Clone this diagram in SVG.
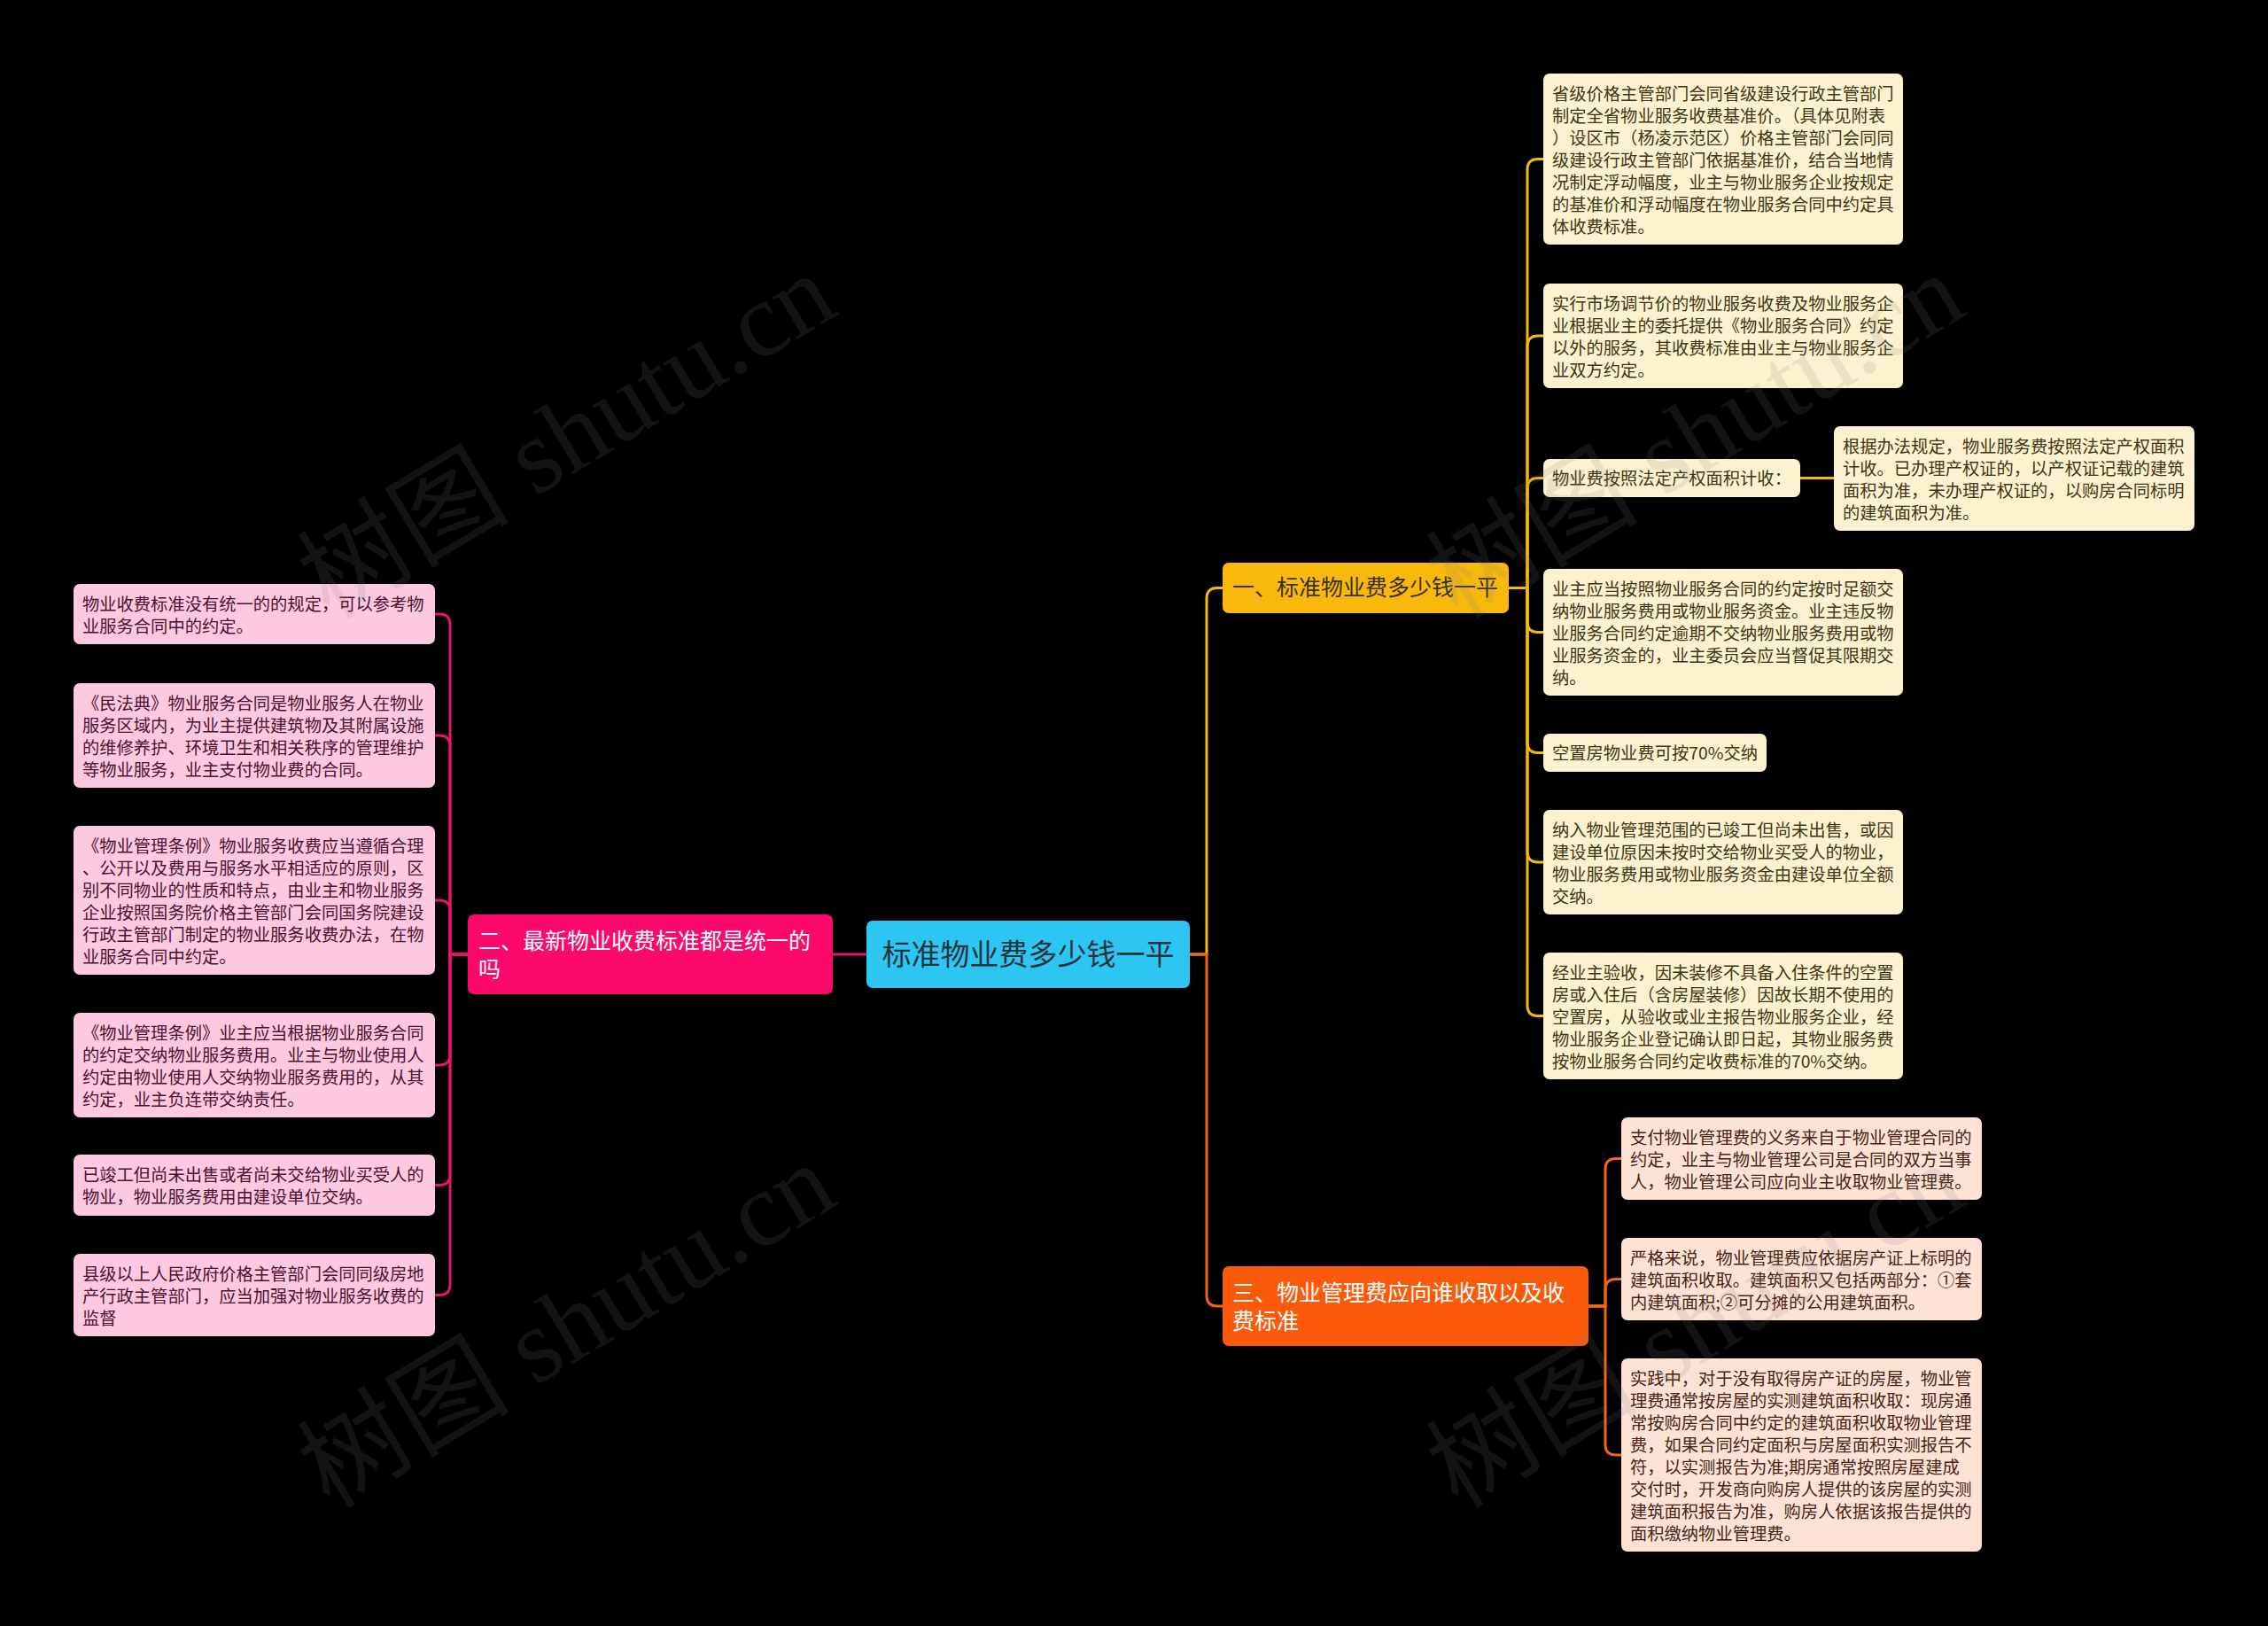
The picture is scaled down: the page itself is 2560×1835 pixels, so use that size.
<svg xmlns="http://www.w3.org/2000/svg" width="2560" height="1835" viewBox="0 0 2560 1835">
<style>
text{font-family:"Noto Sans CJK SC","Noto Sans",sans-serif}
.c1 rect{fill:#fdf2cf}
.c1 text{fill:#3f3512;font-size:19.3px}
.c2 rect{fill:#fcc9e0}
.c2 text{fill:#4d1030;font-size:19.3px}
.c3 rect{fill:#fde2d5}
.c3 text{fill:#4a2412;font-size:19.3px}
.yl{fill:none;stroke:#f6b90f;stroke-width:3}
.pk{fill:none;stroke:#e5156b;stroke-width:3}
.or{fill:none;stroke:#f2661a;stroke-width:3}
.wm{fill:#808080;fill-opacity:0.15;font-size:120px;font-family:"Liberation Serif","Noto Sans CJK SC",serif}
</style>
<rect width="2560" height="1835" fill="#000"/>

<g id="connectors">
<path class="pk" d="M978 1077H940"/>
<path class="pk" d="M528 1077H508V705Q508 693 496 693H491"/>
<path class="pk" d="M528 1077H508V842Q508 830 496 830H491"/>
<path class="pk" d="M528 1077H508V1028Q508 1016 496 1016H491"/>
<path class="pk" d="M528 1077H508V1190Q508 1202 496 1202H491"/>
<path class="pk" d="M528 1077H508V1325.5Q508 1337.5 496 1337.5H491"/>
<path class="pk" d="M528 1077H508V1449.5Q508 1461.5 496 1461.5H491"/>
<path class="yl" d="M1343 1077H1362V675.5Q1362 663.5 1374 663.5H1380"/>
<path class="or" d="M1343 1077H1362V1462Q1362 1474 1374 1474H1380"/>
<path class="yl" d="M1703 663.5H1724V191.5Q1724 179.5 1736 179.5H1742"/>
<path class="yl" d="M1703 663.5H1724V391Q1724 379 1736 379H1742"/>
<path class="yl" d="M1703 663.5H1724V551.5Q1724 539.5 1736 539.5H1742"/>
<path class="yl" d="M1703 663.5H1724V701.5Q1724 713.5 1736 713.5H1742"/>
<path class="yl" d="M1703 663.5H1724V837.5Q1724 849.5 1736 849.5H1742"/>
<path class="yl" d="M1703 663.5H1724V961Q1724 973 1736 973H1742"/>
<path class="yl" d="M1703 663.5H1724V1134.5Q1724 1146.5 1736 1146.5H1742"/>
<path class="yl" d="M2032 539.5H2070"/>
<path class="or" d="M1793 1474H1812V1319.5Q1812 1307.5 1824 1307.5H1830"/>
<path class="or" d="M1793 1474H1812V1455.5Q1812 1443.5 1824 1443.5H1830"/>
<path class="or" d="M1793 1474H1812V1630Q1812 1642 1824 1642H1830"/>
</g>

<g id="root">
<rect x="978" y="1039" width="365" height="76" rx="7" fill="#2dc5f2"/>
<text x="1160.5" y="1089" font-size="33" fill="#23343e" text-anchor="middle">标准物业费多少钱一平</text>
</g>

<g id="b1">
<rect x="1380" y="635" width="323" height="57" rx="7" fill="#f8b90c"/>
<text x="1391" y="672" font-size="25" fill="#3a2f0c">一、标准物业费多少钱一平</text>
</g>
<g id="b2">
<rect x="528" y="1032" width="412" height="90" rx="7" fill="#fc0a6b"/>
<text font-size="25" fill="#fff"><tspan x="540" y="1071">二、最新物业收费标准都是统一的</tspan><tspan x="540" y="1103">吗</tspan></text>
</g>
<g id="b3">
<rect x="1380" y="1429" width="413" height="90" rx="7" fill="#fb5a0b"/>
<text font-size="25" fill="#fff"><tspan x="1391" y="1468">三、物业管理费应向谁收取以及收</tspan><tspan x="1391" y="1500">费标准</tspan></text>
</g>

<g id="r1" class="c1">
<rect x="1742" y="83" width="406" height="193" rx="7"/>
<text><tspan x="1752" y="113">省级价格主管部门会同省级建设行政主管部门</tspan><tspan x="1752" y="138">制定全省物业服务收费基准价。（具体见附表</tspan><tspan x="1752" y="163">）设区市（杨凌示范区）价格主管部门会同同</tspan><tspan x="1752" y="188">级建设行政主管部门依据基准价，结合当地情</tspan><tspan x="1752" y="213">况制定浮动幅度，业主与物业服务企业按规定</tspan><tspan x="1752" y="238">的基准价和浮动幅度在物业服务合同中约定具</tspan><tspan x="1752" y="263">体收费标准。</tspan></text>
</g>
<g id="r2" class="c1">
<rect x="1742" y="320" width="406" height="118" rx="7"/>
<text><tspan x="1752" y="350">实行市场调节价的物业服务收费及物业服务企</tspan><tspan x="1752" y="375">业根据业主的委托提供《物业服务合同》约定</tspan><tspan x="1752" y="400">以外的服务，其收费标准由业主与物业服务企</tspan><tspan x="1752" y="425">业双方约定。</tspan></text>
</g>
<g id="r3" class="c1">
<rect x="1742" y="518" width="290" height="43" rx="7"/>
<text x="1752" y="547">物业费按照法定产权面积计收：</text>
</g>
<g id="r3c" class="c1">
<rect x="2070" y="481" width="407" height="118" rx="7"/>
<text><tspan x="2080" y="511">根据办法规定，物业服务费按照法定产权面积</tspan><tspan x="2080" y="536">计收。已办理产权证的，以产权证记载的建筑</tspan><tspan x="2080" y="561">面积为准，未办理产权证的，以购房合同标明</tspan><tspan x="2080" y="586">的建筑面积为准。</tspan></text>
</g>
<g id="r4" class="c1">
<rect x="1742" y="642" width="406" height="143" rx="7"/>
<text><tspan x="1752" y="672">业主应当按照物业服务合同的约定按时足额交</tspan><tspan x="1752" y="697">纳物业服务费用或物业服务资金。业主违反物</tspan><tspan x="1752" y="722">业服务合同约定逾期不交纳物业服务费用或物</tspan><tspan x="1752" y="747">业服务资金的，业主委员会应当督促其限期交</tspan><tspan x="1752" y="772">纳。</tspan></text>
</g>
<g id="r5" class="c1">
<rect x="1742" y="828" width="252" height="43" rx="7"/>
<text x="1752" y="857">空置房物业费可按70%交纳</text>
</g>
<g id="r6" class="c1">
<rect x="1742" y="914" width="406" height="118" rx="7"/>
<text><tspan x="1752" y="944">纳入物业管理范围的已竣工但尚未出售，或因</tspan><tspan x="1752" y="969">建设单位原因未按时交给物业买受人的物业，</tspan><tspan x="1752" y="994">物业服务费用或物业服务资金由建设单位全额</tspan><tspan x="1752" y="1019">交纳。</tspan></text>
</g>
<g id="r7" class="c1">
<rect x="1742" y="1075" width="406" height="143" rx="7"/>
<text><tspan x="1752" y="1105">经业主验收，因未装修不具备入住条件的空置</tspan><tspan x="1752" y="1130">房或入住后（含房屋装修）因故长期不使用的</tspan><tspan x="1752" y="1155">空置房，从验收或业主报告物业服务企业，经</tspan><tspan x="1752" y="1180">物业服务企业登记确认即日起，其物业服务费</tspan><tspan x="1752" y="1205">按物业服务合同约定收费标准的70%交纳。</tspan></text>
</g>

<g id="t1" class="c3">
<rect x="1830" y="1261" width="407" height="93" rx="7"/>
<text><tspan x="1840" y="1291">支付物业管理费的义务来自于物业管理合同的</tspan><tspan x="1840" y="1316">约定，业主与物业管理公司是合同的双方当事</tspan><tspan x="1840" y="1341">人，物业管理公司应向业主收取物业管理费。</tspan></text>
</g>
<g id="t2" class="c3">
<rect x="1830" y="1397" width="407" height="93" rx="7"/>
<text><tspan x="1840" y="1427">严格来说，物业管理费应依据房产证上标明的</tspan><tspan x="1840" y="1452">建筑面积收取。建筑面积又包括两部分：①套</tspan><tspan x="1840" y="1477">内建筑面积;②可分摊的公用建筑面积。</tspan></text>
</g>
<g id="t3" class="c3">
<rect x="1830" y="1533" width="407" height="218" rx="7"/>
<text><tspan x="1840" y="1563">实践中，对于没有取得房产证的房屋，物业管</tspan><tspan x="1840" y="1588">理费通常按房屋的实测建筑面积收取：现房通</tspan><tspan x="1840" y="1613">常按购房合同中约定的建筑面积收取物业管理</tspan><tspan x="1840" y="1638">费，如果合同约定面积与房屋面积实测报告不</tspan><tspan x="1840" y="1663">符，以实测报告为准;期房通常按照房屋建成</tspan><tspan x="1840" y="1688">交付时，开发商向购房人提供的该房屋的实测</tspan><tspan x="1840" y="1713">建筑面积报告为准，购房人依据该报告提供的</tspan><tspan x="1840" y="1738">面积缴纳物业管理费。</tspan></text>
</g>

<g id="l1" class="c2">
<rect x="83" y="659" width="408" height="68" rx="7"/>
<text><tspan x="93" y="689">物业收费标准没有统一的的规定，可以参考物</tspan><tspan x="93" y="714">业服务合同中的约定。</tspan></text>
</g>
<g id="l2" class="c2">
<rect x="83" y="771" width="408" height="118" rx="7"/>
<text><tspan x="93" y="801">《民法典》物业服务合同是物业服务人在物业</tspan><tspan x="93" y="826">服务区域内，为业主提供建筑物及其附属设施</tspan><tspan x="93" y="851">的维修养护、环境卫生和相关秩序的管理维护</tspan><tspan x="93" y="876">等物业服务，业主支付物业费的合同。</tspan></text>
</g>
<g id="l3" class="c2">
<rect x="83" y="932" width="408" height="168" rx="7"/>
<text><tspan x="93" y="962">《物业管理条例》物业服务收费应当遵循合理</tspan><tspan x="93" y="987">、公开以及费用与服务水平相适应的原则，区</tspan><tspan x="93" y="1012">别不同物业的性质和特点，由业主和物业服务</tspan><tspan x="93" y="1037">企业按照国务院价格主管部门会同国务院建设</tspan><tspan x="93" y="1062">行政主管部门制定的物业服务收费办法，在物</tspan><tspan x="93" y="1087">业服务合同中约定。</tspan></text>
</g>
<g id="l4" class="c2">
<rect x="83" y="1143" width="408" height="118" rx="7"/>
<text><tspan x="93" y="1173">《物业管理条例》业主应当根据物业服务合同</tspan><tspan x="93" y="1198">的约定交纳物业服务费用。业主与物业使用人</tspan><tspan x="93" y="1223">约定由物业使用人交纳物业服务费用的，从其</tspan><tspan x="93" y="1248">约定，业主负连带交纳责任。</tspan></text>
</g>
<g id="l5" class="c2">
<rect x="83" y="1303" width="408" height="69" rx="7"/>
<text><tspan x="93" y="1333">已竣工但尚未出售或者尚未交给物业买受人的</tspan><tspan x="93" y="1358">物业，物业服务费用由建设单位交纳。</tspan></text>
</g>
<g id="l6" class="c2">
<rect x="83" y="1415" width="408" height="93" rx="7"/>
<text><tspan x="93" y="1445">县级以上人民政府价格主管部门会同同级房地</tspan><tspan x="93" y="1470">产行政主管部门，应当加强对物业服务收费的</tspan><tspan x="93" y="1495">监督</tspan></text>
</g>

<g id="watermarks">
<text class="wm" transform="translate(372 700) rotate(-31)">树图 shutu.cn</text>
<text class="wm" transform="translate(1646 700) rotate(-31)">树图 shutu.cn</text>
<text class="wm" transform="translate(372 1704) rotate(-31)">树图 shutu.cn</text>
<text class="wm" transform="translate(1646 1704) rotate(-31)">树图 shutu.cn</text>
</g>
</svg>
